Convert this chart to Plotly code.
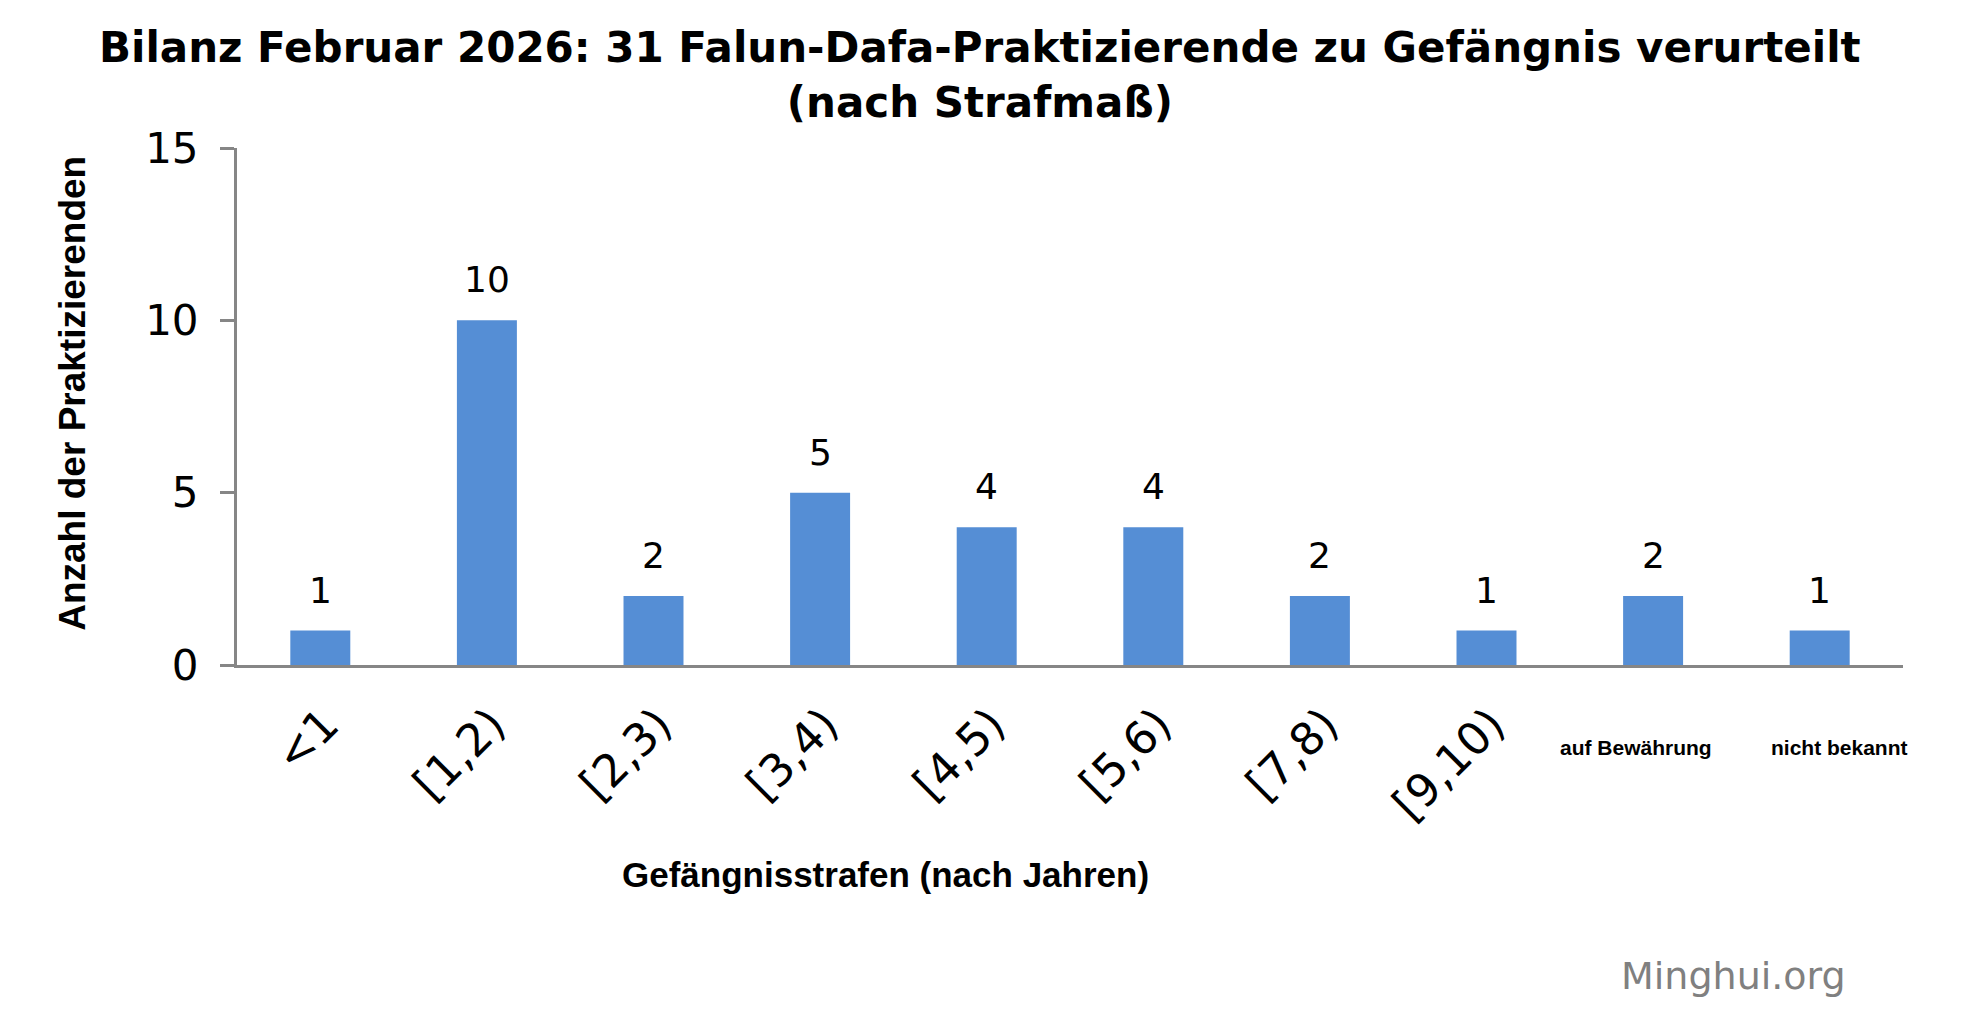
import plotly.graph_objects as go

categories = ["<1", "[1,2)", "[2,3)", "[3,4)", "[4,5)", "[5,6)", "[7,8)", "[9,10)",
              "auf Bewährung", "nicht bekannt"]
rotated_labels = ["&lt;1", "[1,2)", "[2,3)", "[3,4)", "[4,5)", "[5,6)", "[7,8)", "[9,10)", "", ""]
flat_labels = {"auf Bewährung": -17, "nicht bekannt": 20}
values = [1, 10, 2, 5, 4, 4, 2, 1, 2, 1]
y_ticks = [0, 5, 10, 15]

title_text = ("Bilanz Februar 2026: 31 Falun-Dafa-Praktizierende zu Gefängnis verurteilt"
              "<br>(nach Strafmaß)")
x_title = "Gefängnisstrafen (nach Jahren)"
y_title = "Anzahl der Praktizierenden"

BAR = "#558ED5"
AXIS = "#868686"

fig = go.Figure(go.Bar(x=categories, y=values, marker=dict(color=BAR, line=dict(width=0)),
                       width=0.36, hoverinfo="skip"))

annotations = []
for c, v in zip(categories, values):
    annotations.append(dict(x=c, y=v, xref="x", yref="y", text=str(v), showarrow=False,
                            yanchor="bottom", yshift=18,
                            font=dict(family="DejaVu Sans", size=36, color="black")))
for c, shift in flat_labels.items():
    annotations.append(dict(x=c, y=0, xref="x", yref="y", text=c, showarrow=False,
                            yanchor="middle", yshift=-82, xshift=shift,
                            font=dict(family="Liberation Sans", size=21, color="black",
                                      weight="bold")))
annotations.append(dict(x=0.389, y=-0.405, xref="paper", yref="paper", text=x_title,
                        showarrow=False, xanchor="center", yanchor="middle",
                        font=dict(family="Liberation Sans", size=35, color="black",
                                  weight="bold")))
annotations.append(dict(x=-0.0992, y=0.526, xref="paper", yref="paper", text=y_title,
                        showarrow=False, textangle=-90, xanchor="center", yanchor="middle",
                        font=dict(family="Liberation Sans", size=37, color="black",
                                  weight="bold")))
annotations.append(dict(x=0.898, y=-0.601, xref="paper", yref="paper", text="Minghui.org",
                        showarrow=False, xanchor="center", yanchor="middle",
                        font=dict(family="DejaVu Sans", size=38, color="#808080")))
annotations.append(dict(x=0.4462, y=1.1403, xref="paper", yref="paper", text=title_text,
                        showarrow=False, xanchor="center", yanchor="middle",
                        font=dict(family="DejaVu Sans", size=42, color="black",
                                  weight="bold")))

fig.update_layout(
    width=1958, height=1018,
    margin=dict(l=228.5, r=63, t=140, b=361.4, autoexpand=False),
    paper_bgcolor="white", plot_bgcolor="white",
    showlegend=False,
    xaxis=dict(type="category", range=[-0.5, 9.5], showgrid=False, zeroline=False,
               showline=True, linecolor=AXIS, linewidth=3, ticks="",
               tickmode="array", tickvals=categories, ticktext=rotated_labels,
               tickangle=-45, ticklabelstandoff=12, ticklabelshift=5,
               tickfont=dict(family="DejaVu Sans", size=45, color="black")),
    yaxis=dict(range=[0, 15], tickvals=y_ticks, showgrid=False, zeroline=False,
               showline=True, linecolor=AXIS, linewidth=3, ticks="outside",
               ticklen=14, tickwidth=3, tickcolor=AXIS, ticklabelstandoff=13,
               tickfont=dict(family="DejaVu Sans", size=42, color="black")),
    annotations=annotations,
)

fig.write_html("out.html")
